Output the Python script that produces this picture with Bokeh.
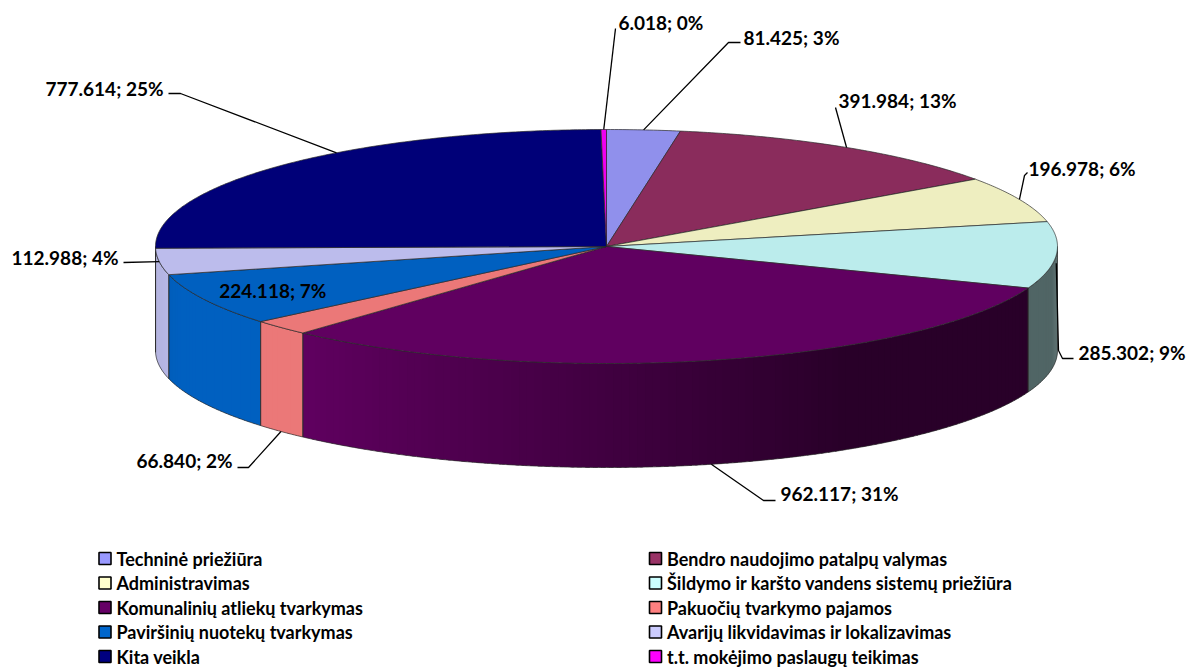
import math
from bokeh.plotting import figure
from bokeh.models import Range1d
from bokeh.core.properties import value
from bokeh.embed import file_html
from bokeh.resources import INLINE

# ---------------- data ----------------
categories = [
    "Techninė priežiūra",
    "Bendro naudojimo patalpų valymas",
    "Administravimas",
    "Šildymo ir karšto vandens sistemų priežiūra",
    "Komunalinių atliekų tvarkymas",
    "Pakuočių tvarkymo pajamos",
    "Paviršinių nuotekų tvarkymas",
    "Avarijų likvidavimas ir lokalizavimas",
    "Kita veikla",
    "t.t. mokėjimo paslaugų teikimas",
]
values = [81.425, 391.984, 196.978, 285.302, 962.117, 66.840, 224.118, 112.988, 777.614, 6.018]

# ---------------- styles ----------------
legend_colors = ["#9999FF", "#993366", "#FFFFCC", "#CCFFFF", "#660066",
                 "#FF8080", "#0066CC", "#CCCCFF", "#000080", "#FF00FF"]
face_colors = ["#9090EC", "#8A2C5C", "#EEEEC0", "#BBECEC", "#600060",
               "#EB7878", "#0060C0", "#BCBCEC", "#000078", "#F000F0"]

CX, CY, RX, RY, DEPTH = 606.0, 246.0, 451.0, 117.0, 104.0
FONT = "Lato"
EDGE = "#2a2a2a"

W, H = 1189, 672
p = figure(width=W, height=H, x_range=Range1d(0, W), y_range=Range1d(H, 0),
           output_backend="svg", toolbar_location=None, min_border=0,
           x_axis_location=None, y_axis_location=None)
p.grid.visible = False
p.outline_line_color = None
p.background_fill_color = "white"
p.border_fill_color = "white"


def pt(theta, r=1.0, dy=0.0):
    t = math.radians(theta)
    return CX + RX * r * math.sin(t), CY - RY * r * math.cos(t) + dy


def arc(a, b, dy=0.0, step=0.5):
    n = max(2, int(abs(b - a) / step) + 1)
    xs, ys = [], []
    for i in range(n + 1):
        th = a + (b - a) * i / n
        x, y = pt(th, 1.0, dy)
        xs.append(x)
        ys.append(y)
    return xs, ys


def hex2rgb(h):
    h = h.lstrip("#")
    return tuple(int(h[i:i + 2], 16) for i in (0, 2, 4))


def shade(h, f):
    r, g, b = hex2rgb(h)
    return "#%02x%02x%02x" % tuple(max(0, min(255, int(round(c * f)))) for c in (r, g, b))


def wall_factor(th):
    if th <= 149:
        return 0.43
    if th <= 223:
        return 0.43 + (th - 149) / (223 - 149) * 0.57
    if th <= 250:
        return 1.0
    return 1.0 - (th - 250) / 20.0 * 0.08


total = sum(values)
angles = []
acc = 0.0
for v in values:
    a = acc / total * 360.0
    acc += v
    b = acc / total * 360.0
    angles.append((a, b))

# ---------------- side walls ----------------
sx, sy, sc = [], [], []
ox, oy = [], []
for i, (a, b) in enumerate(angles):
    lo, hi = max(a, 90.0), min(b, 270.0)
    if hi <= lo:
        continue
    n = max(1, int((hi - lo) / 1.0))
    for k in range(n):
        t0 = lo + (hi - lo) * k / n
        t1 = min(hi, lo + (hi - lo) * (k + 1) / n + 0.6)
        xt, yt = arc(t0, t1, 0.0, 0.25)
        xb, yb = arc(t0, t1, DEPTH, 0.25)
        sx.append(xt + xb[::-1])
        sy.append(yt + yb[::-1])
        sc.append(shade(face_colors[i], wall_factor((t0 + t1) / 2)))
    xt, yt = arc(lo, hi, 0.0)
    xb, yb = arc(lo, hi, DEPTH)
    ox.append(xt + xb[::-1] + [xt[0]])
    oy.append(yt + yb[::-1] + [yt[0]])

p.patches(sx, sy, fill_color=sc, line_color=None)
p.multi_line(ox, oy, line_color=EDGE, line_width=0.7)

# ---------------- top faces ----------------
tx, ty = [], []
for (a, b) in angles:
    xs, ys = arc(a, b)
    tx.append([CX] + xs)
    ty.append([CY] + ys)
p.patches(tx, ty, fill_color=face_colors, line_color=EDGE, line_width=0.7)

# ---------------- data labels ----------------
label_text = []
for v in values:
    pct = int(v / total * 100 + 0.5)
    label_text.append(f"{v:.3f}; {pct}%")

# (text x, text y, align, leader angle shift, leader start drop, leader bends)
label_pos = [
    (743, 37, "left", 0.0, 0.0, [(728, 42), (740, 42)]),
    (838, 100, "left", 0.0, 0.0, [(835, 107)]),
    (1028, 168, "left", 0.0, 0.0, [(1024, 175), (1027, 172)]),
    (1078, 352, "left", 0.0, 8.0, [(1058, 350), (1062, 358), (1073, 358)]),
    (780, 493, "left", 0.0, DEPTH, [(763, 500), (775, 500)]),
    (232, 460, "right", 0.0, DEPTH, [(248, 467), (237, 467)]),
    None,
    (118, 257, "right", 0.0, 0.0, [(123, 262)]),
    (163, 88, "right", 9.0, 0.0, [(180, 93), (168, 93)]),
    (618, 22, "left", 0.0, 0.0, [(615, 28)]),
]

lx, ly = [], []
for i, pos in enumerate(label_pos):
    a, b = angles[i]
    mid = (a + b) / 2
    if pos is None:
        x, y = pt(mid, 0.83)
        p.text([x], [y], text=[label_text[i]], text_align="center", text_baseline="middle",
               text_font=value(FONT), text_font_style="bold", text_font_size="19px",
               text_color="black")
        continue
    x0, y0, al, shift, dy, bends = pos
    sxp, syp = pt(mid + shift, 1.0, dy)
    lx.append([sxp] + [q[0] for q in bends])
    ly.append([syp] + [q[1] for q in bends])
    p.text([x0], [y0], text=[label_text[i]], text_align=al, text_baseline="middle",
           text_font=value(FONT), text_font_style="bold", text_font_size="19px",
           text_color="black")
p.multi_line(lx, ly, line_color="black", line_width=1.3)

# ---------------- legend ----------------
col_x = [104.5, 655.0]
row_y = [558, 582.5, 607, 631.5, 656]
lgx, lgy, lgc, ltx, lty, ltt = [], [], [], [], [], []
for i, name in enumerate(categories):
    c = i % 2
    r = i // 2
    lgx.append(col_x[c])
    lgy.append(row_y[r])
    lgc.append(legend_colors[i])
    ltx.append(col_x[c] + 11.5)
    lty.append(row_y[r])
    ltt.append(name)
p.scatter(lgx, lgy, marker="square", size=12, fill_color=lgc, line_color="black", line_width=1.6)
p.text(ltx, lty, text=ltt, text_align="left", text_baseline="middle",
       text_font=value(FONT), text_font_style="bold", text_font_size="18px", text_color="black")

open("out.html", "w").write(file_html(p, INLINE))
